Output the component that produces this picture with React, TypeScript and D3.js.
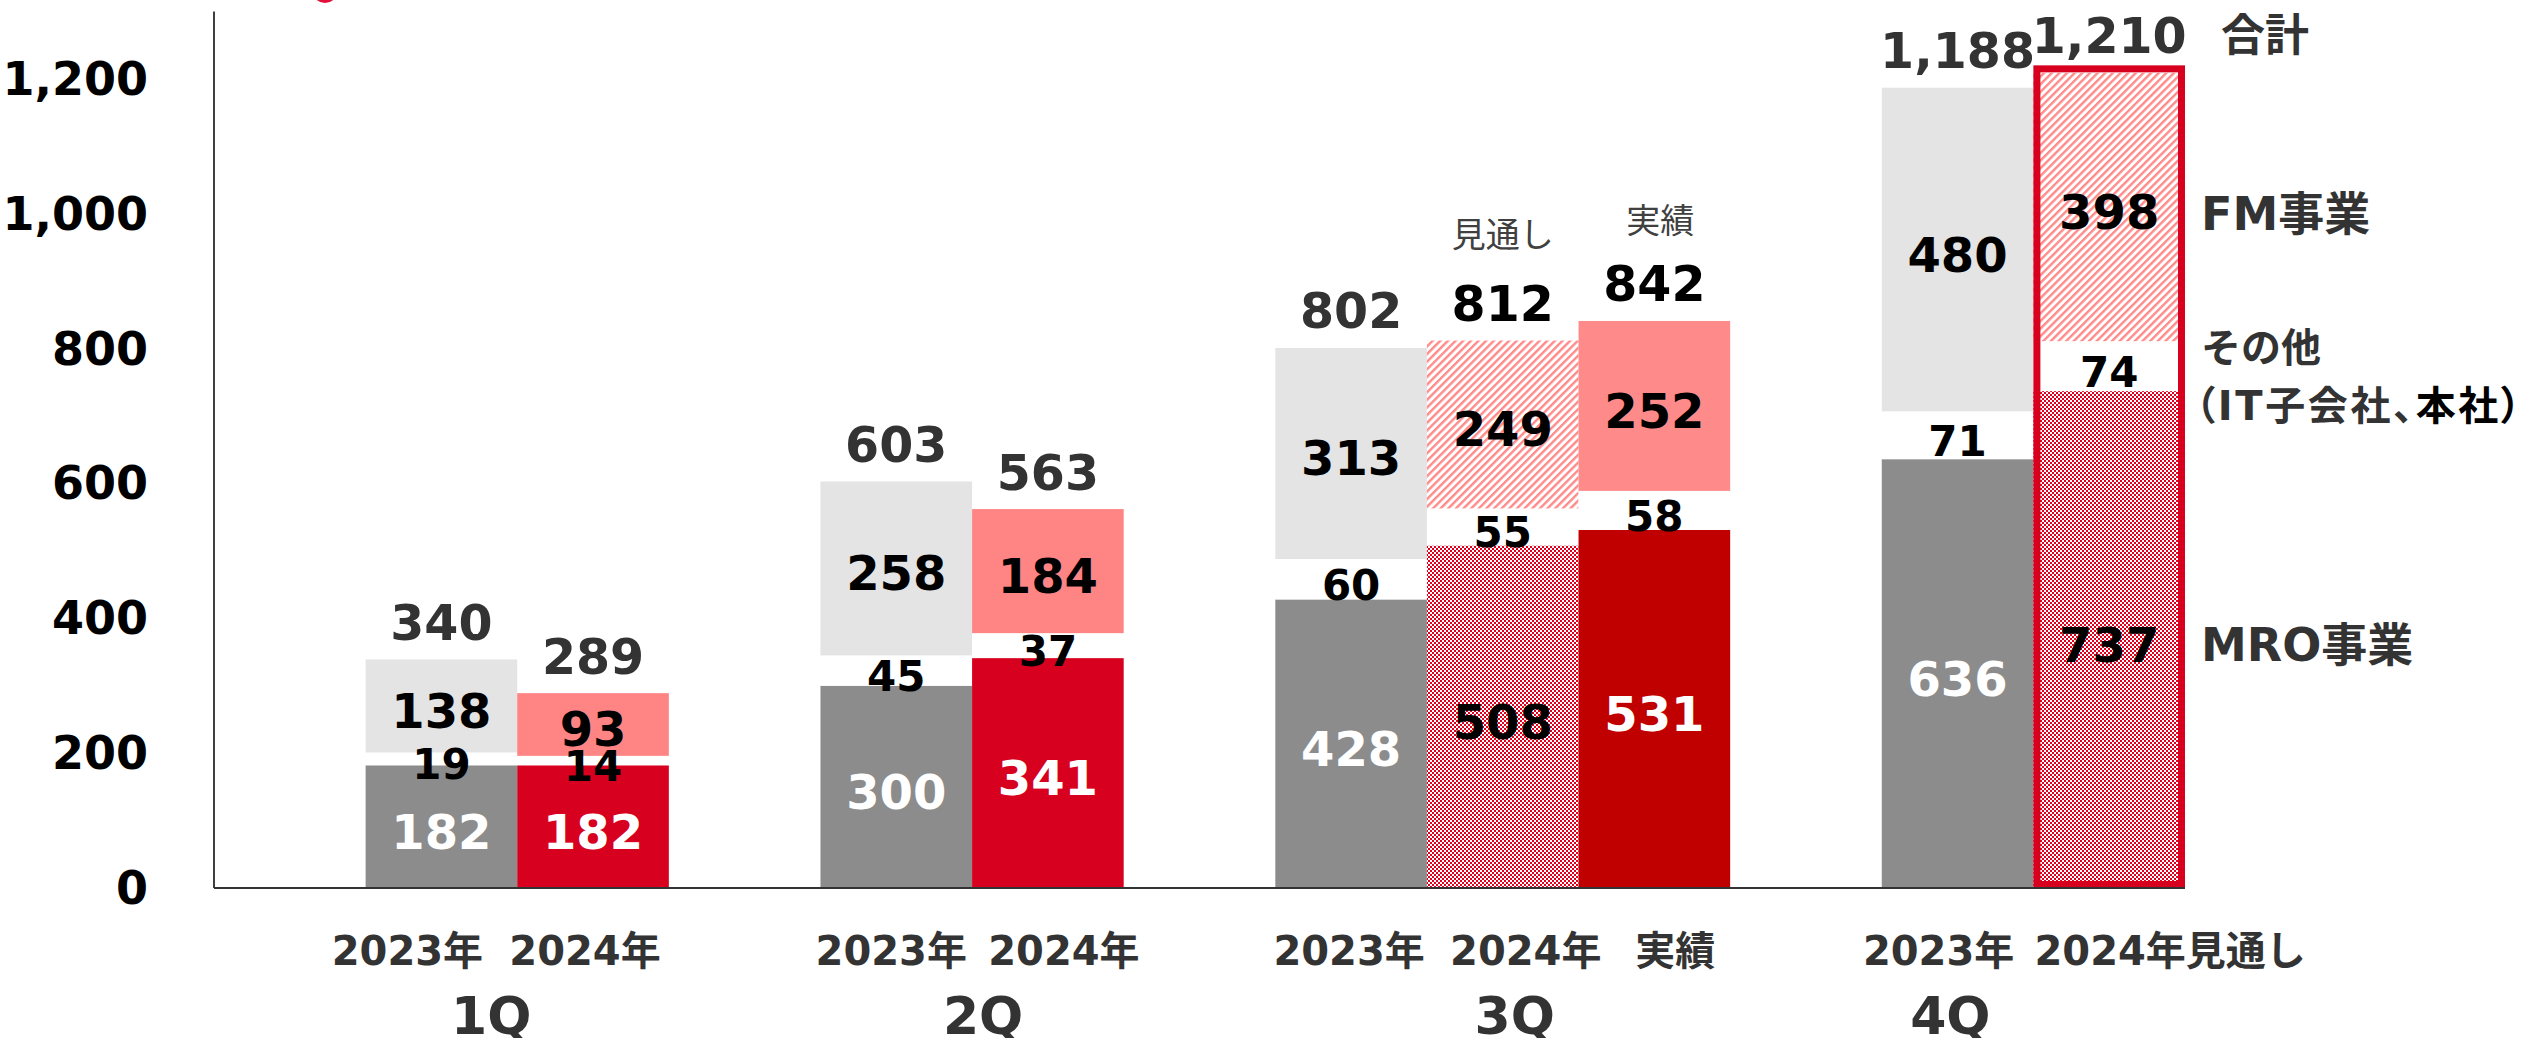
import React from "react";
import * as d3 from "d3";

// ---- data ----
const slots = ["pad", "1Q-2023", "1Q-2024", "g1", "2Q-2023", "2Q-2024", "g2", "3Q-2023", "3Q-2024f", "3Q-2024a", "g3", "4Q-2023", "4Q-2024f"];
const barKeys = ["1Q-2023", "1Q-2024", "2Q-2023", "2Q-2024", "3Q-2023", "3Q-2024f", "3Q-2024a", "4Q-2023", "4Q-2024f"];
const mroValues = [182, 182, 300, 341, 428, 508, 531, 636, 737];
const otherValues = [19, 14, 45, 37, 60, 55, 58, 71, 74];
const fmValues = [138, 93, 258, 184, 313, 249, 252, 480, 398];
const totalValues = [340, 289, 603, 563, 802, 812, 842, 1188, 1210];
const barKinds = ["y2023", "y2024", "y2023", "y2024", "y2023", "forecast", "actual", "y2023", "forecastOutlined"];
const yearLabels = ["2023年", "2024年", "2023年", "2024年", "2023年", "2024年", "実績", "2023年", "2024年見通し"];
const quarterLabels = ["1Q", "2Q", "3Q", "4Q"];
const quarterSlots = [["1Q-2023", "1Q-2024"], ["2Q-2023", "2Q-2024"], ["3Q-2023", "3Q-2024a"], ["4Q-2023", "4Q-2024f"]];
const yTicks = [0, 200, 400, 600, 800, 1000, 1200];

// ---- layout / style ----
const W = 2527, H = 1038;
const AXIS_X = 214, RIGHT_X = 2185, BASE_Y = 888, TOP_Y = 11.5;
const yearLabelOffsets = [-34, -8, -5, 16, -2, 23, 21, -19, 61];
const quarterOffsets = [-26, 11, 12, -83];
const FONT = "'DejaVu Sans', 'Noto Sans CJK JP', sans-serif";
const JFONT = "'Noto Sans CJK JP', sans-serif";

const kindStyle: Record<string, any> = {
  y2023: { mro: "#8c8c8c", fm: "#e4e4e4", mroText: "#ffffff", total: "#333333" },
  y2024: { mro: "#d7001f", fm: "#ff8585", mroText: "#ffffff", total: "#333333" },
  actual: { mro: "#c00000", fm: "#ff8a8a", mroText: "#ffffff", total: "#000000" },
  forecast: { mro: "url(#checker)", fm: "url(#stripe)", mroText: "#000000", total: "#000000" },
  forecastOutlined: { mro: "url(#checker)", fm: "url(#stripe)", mroText: "#000000", total: "#333333", outline: "#d7001f" },
};

export default function App() {
  const x = d3.scaleBand<string>().domain(slots).range([AXIS_X, RIGHT_X]).paddingInner(0).paddingOuter(0);
  const y = d3.scaleLinear().domain([0, 1300]).range([BASE_Y, TOP_Y]);
  const bw = x.bandwidth();

  const bars = barKeys.map((k, i) => {
    const s0 = 0, s1 = mroValues[i], s2 = s1 + otherValues[i], s3 = s2 + fmValues[i];
    return { k, i, x0: x(k)!, s0, s1, s2, s3, st: kindStyle[barKinds[i]] };
  });
  const last = bars[bars.length - 1];

  return (
    <svg width={W} height={H} style={{ position: "absolute", left: 0, top: 0, background: "#fff" }}>
      <defs>
        <pattern id="stripe" patternUnits="userSpaceOnUse" width="5.4" height="5.4" patternTransform="rotate(45)">
          <rect width="5.4" height="5.4" fill="#ffffff" />
          <rect width="2.4" height="5.4" fill="#ff8a8a" />
        </pattern>
        <pattern id="checker" patternUnits="userSpaceOnUse" width="4" height="4">
          <rect width="4" height="4" fill="#ffffff" />
          <rect x="0" y="0" width="2" height="2" fill="#e0001e" />
          <rect x="2" y="2" width="2" height="2" fill="#e0001e" />
        </pattern>
      </defs>
      <rect width={W} height={H} fill="#fff" />
      <ellipse cx={325} cy={-8} rx={12} ry={11} fill="#e2103a" />

      {/* y axis */}
      <line x1={AXIS_X} x2={AXIS_X} y1={y(1300)} y2={BASE_Y} stroke="#404040" strokeWidth={2} />
      {yTicks.map((t) => (
        <text key={t} x={148} y={y(t)} textAnchor="end" dominantBaseline="central" fontFamily={FONT} fontWeight="bold" fontSize={46} fill="#000">
          {d3.format(",")(t)}
        </text>
      ))}

      {/* bars */}
      {bars.map((b) => (
        <g key={b.k}>
          <rect x={b.x0} width={bw} y={y(b.s1)} height={y(b.s0) - y(b.s1)} fill={b.st.mro} />
          <rect x={b.x0} width={bw} y={y(b.s2)} height={y(b.s1) - y(b.s2)} fill="#ffffff" />
          <rect x={b.x0} width={bw} y={y(b.s3)} height={y(b.s2) - y(b.s3)} fill={b.st.fm} />
        </g>
      ))}
      {last.st.outline && (
        <rect x={last.x0 + 3.5} width={bw - 7} y={y(last.s3) - 4} height={BASE_Y - y(last.s3) + 4 - 3.5} fill="none" stroke={last.st.outline} strokeWidth={7} />
      )}

      {/* baseline */}
      <line x1={AXIS_X} x2={RIGHT_X} y1={BASE_Y} y2={BASE_Y} stroke="#333" strokeWidth={2} />

      {/* segment labels */}
      {bars.map((b) => {
        const cx = b.x0 + bw / 2;
        return (
          <g key={"l" + b.k} fontFamily={FONT} fontWeight="bold" textAnchor="middle" dominantBaseline="central">
            <text x={cx} y={y((b.s0 + b.s1) / 2) + 5} fontSize={48} fill={b.st.mroText}>{mroValues[b.i]}</text>
            <text x={cx} y={y((b.s1 + b.s2) / 2) + 6} fontSize={42} fill="#000">{otherValues[b.i]}</text>
            <text x={cx} y={y((b.s2 + b.s3) / 2) + 5} fontSize={48} fill="#000">{fmValues[b.i]}</text>
            <text x={cx} y={y(b.s3) - 36} fontSize={49} fill={b.st.total}>{d3.format(",")(totalValues[b.i])}</text>
            <text x={cx + yearLabelOffsets[b.i]} y={951} fontSize={40} fill="#333">{yearLabels[b.i]}</text>
          </g>
        );
      })}

      {/* forecast / actual headers for 3Q */}
      <text x={x("3Q-2024f")! + bw / 2} y={y(812) - 108} textAnchor="middle" dominantBaseline="central" fontFamily={JFONT} fontSize={34} fill="#404040">見通し</text>
      <text x={x("3Q-2024a")! + bw / 2 + 6} y={y(842) - 102} textAnchor="middle" dominantBaseline="central" fontFamily={JFONT} fontSize={34} fill="#404040">実績</text>

      {/* quarter labels */}
      {quarterLabels.map((q, i) => {
        const [a, bKey] = quarterSlots[i];
        const cx = (x(a)! + x(bKey)! + bw) / 2 + quarterOffsets[i];
        return (
          <text key={q} x={cx} y={1034} textAnchor="middle" fontFamily={FONT} fontWeight="bold" fontSize={52} fill="#333">{q}</text>
        );
      })}

      {/* right-side legend */}
      <g fontFamily={FONT} fontWeight="bold" dominantBaseline="central" fill="#333">
        <text x={2221} y={35} fontSize={44}>合計</text>
        <text x={2201} y={y((last.s2 + last.s3) / 2) + 7} fontSize={46}>FM事業</text>
        <text x={2201} y={348} fontSize={40}>その他</text>
        <text x={2195} y={406} fontSize={40} textLength={326} lengthAdjust="spacing" style={{ fontFeatureSettings: "'palt'" }}>
          （IT子会社、<tspan fill="#000">本社）</tspan>
        </text>
        <text x={2201} y={y((last.s0 + last.s1) / 2) + 5} fontSize={46}>MRO事業</text>
      </g>
    </svg>
  );
}
